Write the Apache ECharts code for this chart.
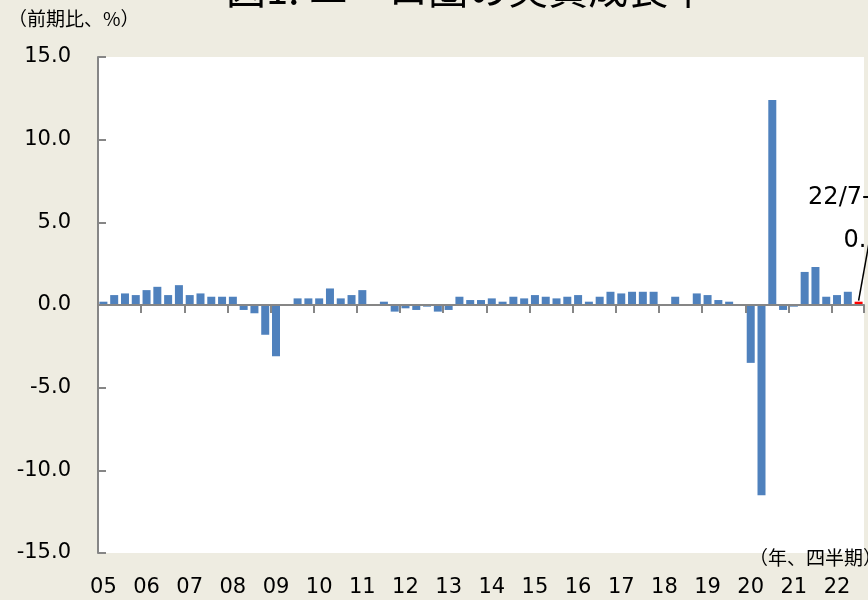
<!DOCTYPE html>
<html>
<head>
<meta charset="utf-8">
<script src="https://cdn.jsdelivr.net/npm/echarts@6/dist/echarts.min.js"></script>
<style>
html,body{margin:0;padding:0;background:#EEECE1;}
#chart{width:868px;height:600px;}
</style>
</head>
<body>
<div id="chart"></div>
<script>
// Years shown on the axis (2005–2022) and quarters
var years = ['05','06','07','08','09','10','11','12','13','14','15','16','17','18','19','20','21','22'];
var quarters = ['Q1','Q2','Q3','Q4'];
// Real GDP growth, quarter on quarter (%), 2005Q1 – 2022Q3
var growth = [
  0.2, 0.6, 0.7, 0.6,
  0.9, 1.1, 0.6, 1.2,
  0.6, 0.7, 0.5, 0.5,
  0.5, -0.3, -0.5, -1.8,
  -3.1, 0.0, 0.4, 0.4,
  0.4, 1.0, 0.4, 0.6,
  0.9, 0.0, 0.2, -0.4,
  -0.2, -0.3, -0.1, -0.4,
  -0.3, 0.5, 0.3, 0.3,
  0.4, 0.2, 0.5, 0.4,
  0.6, 0.5, 0.4, 0.5,
  0.6, 0.2, 0.5, 0.8,
  0.7, 0.8, 0.8, 0.8,
  0.0, 0.5, 0.0, 0.7,
  0.6, 0.3, 0.2, 0.0,
  -3.5, -11.5, 12.4, -0.3,
  -0.1, 2.0, 2.3, 0.5,
  0.6, 0.8, 0.2
];
var yTicks = [-15, -10, -5, 0, 5, 10, 15];
var titleText = '図1. ユーロ圏の実質成長率';
var yUnit = '（前期比、%）';
var xUnit = '（年、四半期）';
var noteLines = ['22/7-9月期', '0.2%'];

var categories = [];
years.forEach(function (y) { quarters.forEach(function (q) { categories.push(y + q); }); });
categories = categories.slice(0, growth.length);

var barData = growth.map(function (v, i) {
  if (i === growth.length - 1) return { value: v, itemStyle: { color: '#FF0000' } };
  return v;
});

var latin = 'DejaVu Sans, Verdana, sans-serif';
var cjk = '"Noto Sans CJK JP", sans-serif';
var axisGray = '#868686';

var chart = echarts.init(document.getElementById('chart'), null, { renderer: 'canvas' });
var option = {
  backgroundColor: '#EEECE1',
  animation: false,
  grid: { left: 98, right: 4, top: 57, bottom: 47, show: true, backgroundColor: '#FFFFFF', borderWidth: 0 },
  xAxis: [{
    type: 'category',
    data: categories,
    boundaryGap: true,
    axisLine: { onZero: true, lineStyle: { color: axisGray, width: 2 } },
    axisTick: { show: true, length: 8, lineStyle: { color: axisGray, width: 2 },
      interval: function (idx) { return idx % 4 === 0; } },
    axisLabel: { show: false },
    splitLine: { show: false },
    z: 5
  }, {
    type: 'category',
    data: categories,
    position: 'bottom',
    offset: 0,
    boundaryGap: true,
    axisLine: { show: false, onZero: false },
    axisTick: { show: false },
    axisLabel: {
      show: true,
      interval: function (idx) { return idx % 4 === 0; },
      formatter: function (v) { return v.slice(0, 2); },
      color: '#000', fontFamily: latin, fontSize: 21, margin: 24
    }
  }],
  yAxis: {
    type: 'value',
    min: yTicks[0], max: yTicks[yTicks.length - 1], interval: 5,
    axisLine: { show: true, lineStyle: { color: axisGray, width: 2 } },
    axisTick: { show: true, inside: true, length: 8, lineStyle: { color: axisGray, width: 2 } },
    splitLine: { show: false },
    axisLabel: { color: '#000', fontFamily: latin, fontSize: 21, margin: 27,
      formatter: function (v) { return v.toFixed(1); } }
  },
  series: [{
    type: 'bar',
    xAxisIndex: 0,
    yAxisIndex: 0,
    data: barData,
    barWidth: 8,
    itemStyle: { color: '#4F81BD' },
    z: 3
  }]
};
chart.setOption(option);

var lastIdx = growth.length - 1;
var barTop = chart.convertToPixel({ xAxisIndex: 0, yAxisIndex: 0 }, [lastIdx, growth[lastIdx]]);
chart.setOption({
  graphic: [
    { type: 'text', left: 226, top: -31, z: 10,
      style: { text: titleText, font: '40px ' + cjk, fill: '#000' } },
    { type: 'text', x: 8, y: 9, z: 10,
      style: { text: yUnit, font: '19px ' + cjk, fill: '#000' } },
    { type: 'text', x: 882, y: 548, z: 10,
      style: { text: xUnit, font: '19px ' + cjk, fill: '#000', align: 'right' } },
    { type: 'line', z: 10,
      shape: { x1: barTop[0], y1: barTop[1] - 1, x2: barTop[0] + 11, y2: barTop[1] - 62 },
      style: { stroke: '#000', lineWidth: 1.5 } },
    { type: 'text', x: 871, y: 186, z: 10,
      style: { text: noteLines[0], font: '24px ' + latin, fill: '#000', align: 'center' } },
    { type: 'text', x: 874, y: 229, z: 10,
      style: { text: noteLines[1], font: '24px ' + latin, fill: '#000', align: 'center' } }
  ]
});
</script>
</body>
</html>
